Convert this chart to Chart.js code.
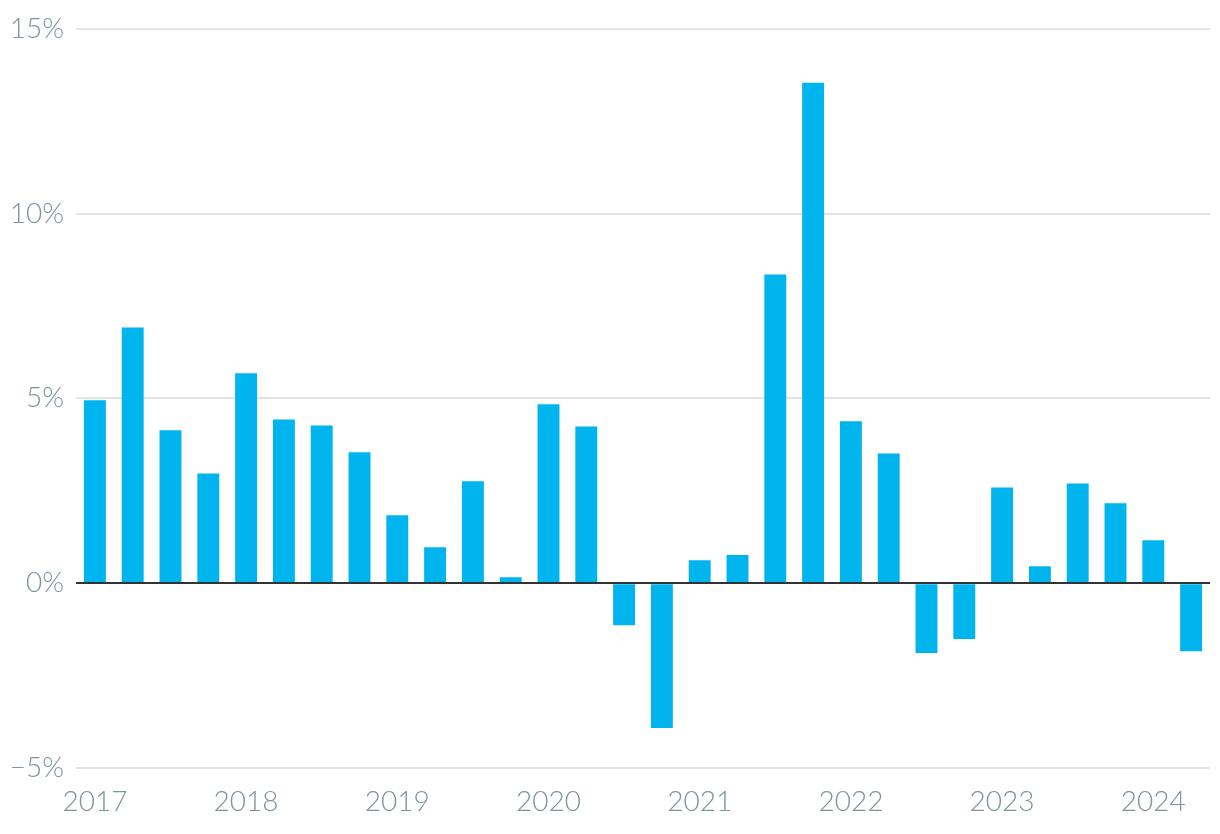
<!DOCTYPE html>
<html>
<head>
<meta charset="utf-8">
<script src="https://cdn.jsdelivr.net/npm/chart.js@4/dist/chart.umd.min.js"></script>
<style>
  html, body { margin: 0; padding: 0; background: #fff; }
  #wrap { width: 1220px; height: 834px; }
</style>
</head>
<body>
<div id="wrap"><canvas id="barChart"></canvas></div>
<script>
// quarterly periods, 2017 Q1 .. 2024 Q2
const years = ['2017', '2018', '2019', '2020', '2021', '2022', '2023', '2024'];
const quarters = [];
years.forEach(y => ['Q1', 'Q2', 'Q3', 'Q4'].forEach(q => quarters.push(y + ' ' + q)));
quarters.length = 30;

// % change
const values = [
  4.95, 6.92, 4.14, 2.97,
  5.68, 4.43, 4.27, 3.54,
  1.84, 0.97, 2.76, 0.16,
  4.84, 4.24, -1.14, -3.92,
  0.62, 0.76, 8.35, 13.54,
  4.38, 3.51, -1.89, -1.51,
  2.59, 0.46, 2.70, 2.16,
  1.16, -1.84
];

const yTicks = [-5, 0, 5, 10, 15];

const tickColor = '#7f949c';
const tickFont = { family: 'Lato', size: 28, weight: '300' };

// zero line on top of the bars
const zeroLine = {
    id: 'zeroLine',
    afterDatasetsDraw(chart) {
        const { ctx, chartArea, scales } = chart;
        const y = Math.round(scales.y.getPixelForValue(0));
        ctx.save();
        ctx.strokeStyle = '#333333';
        ctx.lineWidth = 2;
        ctx.beginPath();
        ctx.moveTo(chartArea.left, y);
        ctx.lineTo(chartArea.right, y);
        ctx.stroke();
        ctx.restore();
    }
};

new Chart(document.getElementById('barChart').getContext('2d'), {
    type: 'bar',
    data: {
        labels: quarters,
        datasets: [{ data: values, backgroundColor: '#00b4ee', barPercentage: 0.58, categoryPercentage: 1 }]
    },
    options: {
        responsive: true,
        maintainAspectRatio: false,
        animation: false,
        layout: { padding: { top: 28, right: 10, bottom: 0, left: 0 } },
        plugins: { legend: { display: false }, tooltip: { enabled: false } },
        scales: {
            x: {
                grid: { display: false, drawTicks: false },
                border: { display: false },
                ticks: {
                    autoSkip: false, maxRotation: 0, minRotation: 0,
                    color: tickColor, font: tickFont, padding: 17,
                    callback: function(v, i) {
                        const q = quarters[i];
                        return q.endsWith('Q1') ? q.slice(0, 4) : '';
                    }
                },
                afterFit: s => { s.height = 66; }
            },
            y: {
                min: -5, max: 15,
                afterBuildTicks: s => { s.ticks = yTicks.map(v => ({ value: v })); },
                grid: { color: '#e4e4e4', lineWidth: 2, drawTicks: false },
                border: { display: false },
                ticks: {
                    color: tickColor, font: tickFont, padding: 12,
                    callback: v => (v < 0 ? '\u2212' + Math.abs(v) : v) + '%'
                },
                afterFit: s => { s.width = 76; }
            }
        }
    },
    plugins: [zeroLine]
});
</script>
</body>
</html>
